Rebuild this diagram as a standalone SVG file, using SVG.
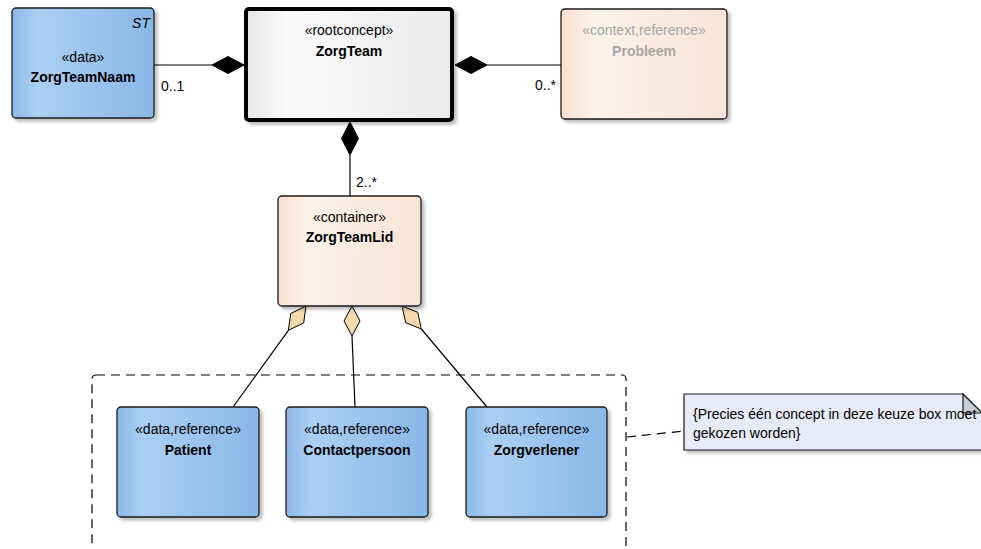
<svg xmlns="http://www.w3.org/2000/svg" width="981" height="549" viewBox="0 0 981 549">
  <style>
    text { font-family: "Liberation Sans", Arial, sans-serif; font-size: 14px; fill: #000; }
    .name { font-weight: bold; }
    .mid { text-anchor: middle; }
    .grey { fill: #a6a6a6; }
    .box { stroke: #1a1a1a; stroke-width: 1.3; filter: url(#shadow); }
    .blue { fill: url(#gBlue); }
    .peach { fill: url(#gPeach); }
    .line { stroke: #000; stroke-width: 1.2; fill: none; }
    .dash { stroke: #000; stroke-width: 1.2; fill: none; stroke-dasharray: 9 6; }
    .solid { fill: #000; stroke: #000; stroke-width: 1; }
    .hollow { fill: #f4d9ae; stroke: #000; stroke-width: 1; }
  </style>
  <defs>
    <linearGradient id="gBlue" x1="0" y1="0" x2="1" y2="0">
      <stop offset="0" stop-color="#8bb8e7"/>
      <stop offset="0.18" stop-color="#abcff3"/>
      <stop offset="1" stop-color="#89b7e7"/>
    </linearGradient>
    <linearGradient id="gPeach" x1="0" y1="0" x2="1" y2="0">
      <stop offset="0" stop-color="#f7dfcf"/>
      <stop offset="0.2" stop-color="#fdf2ea"/>
      <stop offset="1" stop-color="#f8e4d6"/>
    </linearGradient>
    <linearGradient id="gGrey" x1="0" y1="0" x2="1" y2="0">
      <stop offset="0" stop-color="#e6e6e6"/>
      <stop offset="0.2" stop-color="#fbfbfb"/>
      <stop offset="1" stop-color="#ebebeb"/>
    </linearGradient>
    <filter id="shadow" x="-10%" y="-10%" width="130%" height="130%">
      <feDropShadow dx="3" dy="3" stdDeviation="1.5" flood-color="#000" flood-opacity="0.25"/>
    </filter>
  </defs>

  <!-- boundary (choice box) -->
  <g id="choiceBoundary">
    <rect x="92" y="375" width="534" height="185" rx="4" class="dash"/>
  </g>

  <g id="connectors">
    <!-- ZorgTeamNaam - ZorgTeam -->
    <line x1="154" y1="65" x2="212" y2="65" class="line"/>
    <polygon points="244,65 228,56.5 212,65 228,73.5" class="solid"/>
    <text x="161" y="91">0..1</text>
    <!-- ZorgTeam - Probleem -->
    <polygon points="455,65 471,56.5 487,65 471,73.5" class="solid"/>
    <line x1="487" y1="65" x2="561" y2="65" class="line"/>
    <text x="556" y="90" text-anchor="end">0..*</text>
    <!-- ZorgTeam - ZorgTeamLid -->
    <polygon points="350,122 341.5,138.5 350,155 358.5,138.5" class="solid"/>
    <line x1="350" y1="155" x2="350" y2="196" class="line"/>
    <text x="356" y="187">2..*</text>
    <!-- ZorgTeamLid - Patient -->
    <polygon points="306,306 303.7,322.9 288.4,330.3 290.7,313.5" class="hollow"/>
    <line x1="288.4" y1="330.3" x2="233" y2="407" class="line"/>
    <!-- ZorgTeamLid - Contactpersoon -->
    <polygon points="352,306 360,321 352,336 344,321" class="hollow"/>
    <line x1="352" y1="336" x2="355" y2="407" class="line"/>
    <!-- ZorgTeamLid - Zorgverlener -->
    <polygon points="402,306 417.8,312.3 421.3,329 405.6,322.6" class="hollow"/>
    <line x1="421.3" y1="329" x2="487" y2="407" class="line"/>
    <!-- note link -->
    <line x1="627" y1="437" x2="684" y2="431" class="dash"/>
  </g>

  <g id="ZorgTeamNaam">
    <rect x="12" y="8" width="142" height="110" rx="4" class="box blue"/>
    <text x="150" y="28" text-anchor="end" font-style="italic">ST</text>
    <text x="83" y="62" class="mid">«data»</text>
    <text x="83" y="82" class="mid name">ZorgTeamNaam</text>
  </g>

  <g id="ZorgTeam">
    <rect x="246" y="9" width="206" height="111" rx="3" fill="url(#gGrey)" stroke="#000" stroke-width="4" filter="url(#shadow)"/>
    <text x="349" y="35" class="mid">«rootconcept»</text>
    <text x="349" y="56" class="mid name">ZorgTeam</text>
  </g>

  <g id="Probleem">
    <rect x="561" y="9" width="166" height="110" rx="4" class="box peach"/>
    <text x="644" y="35" class="mid grey">«context,reference»</text>
    <text x="644" y="56" class="mid name grey">Probleem</text>
  </g>

  <g id="ZorgTeamLid">
    <rect x="278" y="196" width="143" height="110" rx="4" class="box peach"/>
    <text x="349.5" y="222" class="mid">«container»</text>
    <text x="349.5" y="242" class="mid name">ZorgTeamLid</text>
  </g>

  <g id="Patient">
    <rect x="117" y="407" width="142" height="110" rx="4" class="box blue"/>
    <text x="188" y="434" class="mid">«data,reference»</text>
    <text x="188" y="455" class="mid name">Patient</text>
  </g>

  <g id="Contactpersoon">
    <rect x="286" y="407" width="142" height="110" rx="4" class="box blue"/>
    <text x="357" y="434" class="mid">«data,reference»</text>
    <text x="357" y="455" class="mid name">Contactpersoon</text>
  </g>

  <g id="Zorgverlener">
    <rect x="466" y="407" width="141" height="110" rx="4" class="box blue"/>
    <text x="536.5" y="434" class="mid">«data,reference»</text>
    <text x="536.5" y="455" class="mid name">Zorgverlener</text>
  </g>

  <g id="Note">
    <polygon points="684,394 963,394 982,413 982,450 684,450" fill="#e8eaf9" stroke="#1a1a1a" stroke-width="1.2" filter="url(#shadow)"/>
    <polygon points="963,394 963,413 982,413" fill="#c9cbd9" stroke="#1a1a1a" stroke-width="1.2"/>
    <text x="693" y="419">{Precies één concept in deze keuze box moet</text>
    <text x="693" y="438">gekozen worden}</text>
  </g>
</svg>
